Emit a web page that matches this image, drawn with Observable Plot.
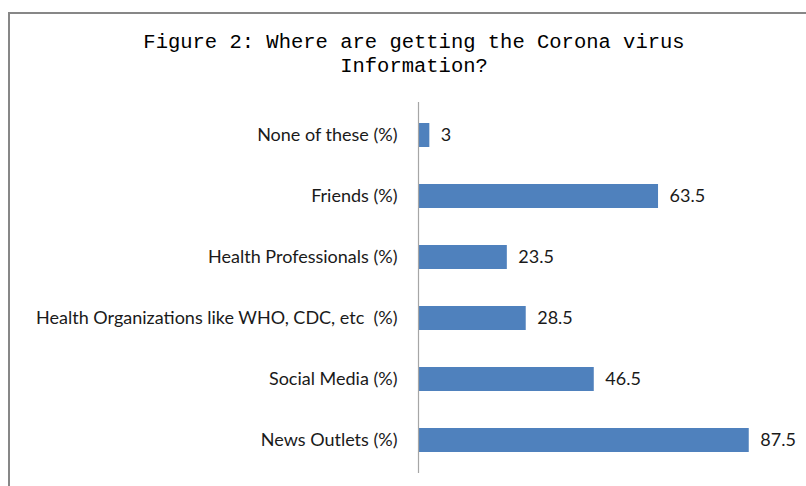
<!DOCTYPE html>
<html>
<head>
<meta charset="utf-8">
<script src="https://cdn.jsdelivr.net/npm/d3@7"></script>
<script src="https://cdn.jsdelivr.net/npm/@observablehq/plot@0.6"></script>
<style>
  html, body { margin: 0; padding: 0; background: #fff; overflow: hidden; }
  #wrap { position: relative; width: 806px; height: 486px; overflow: hidden; }
  #frame { position: absolute; left: 8px; top: 12px; width: 900px; height: 600px;
           border-left: 2px solid #878787; border-top: 2px solid #878787; box-sizing: border-box; }
  #title { position: absolute; left: 0; top: 31px; width: 828px; text-align: center;
           font-family: "Liberation Mono", monospace; font-size: 20.5px; line-height: 24px; color: #000; }
  #chart { position: absolute; left: 0; top: 90px; }
</style>
</head>
<body>
<div id="wrap">
  <div id="frame"></div>
  <div id="title">Figure 2: Where are getting the Corona virus<br>Information?</div>
  <div id="chart"></div>
</div>
<script>
const categories = [
  "None of these (%)",
  "Friends (%)",
  "Health Professionals (%)",
  "Health Organizations like WHO, CDC, etc \u00a0(%)",
  "Social Media (%)",
  "News Outlets (%)"
];
const values = [3, 63.5, 23.5, 28.5, 46.5, 87.5];
const labels = ["3", "63.5", "23.5", "28.5", "46.5", "87.5"];

const data = categories.map((c, i) => ({ category: c, value: values[i], label: labels[i] }));

const plot = Plot.plot({
  width: 806,
  height: 396,
  marginLeft: 418,
  marginRight: 10,
  marginTop: 12,
  marginBottom: 13,
  style: { fontFamily: "Lato, sans-serif", fontSize: "18px", color: "#1a1a1a", background: "transparent" },
  x: { domain: [0, 100], axis: null },
  y: { domain: categories, paddingInner: 0.6, paddingOuter: 0.3, label: null, tickSize: 0, tickPadding: 21 },
  marks: [
    Plot.barX(data, { x: "value", y: "category", fill: "#4F81BD" }),
    Plot.ruleX([0], { stroke: "#a6a6a6", strokeWidth: 1.2 }),
    Plot.text(data, { x: "value", y: "category", text: "label", textAnchor: "start", dx: 11, fill: "#1a1a1a", fontSize: 18 })
  ]
});
document.getElementById("chart").appendChild(plot);
</script>
</body>
</html>
